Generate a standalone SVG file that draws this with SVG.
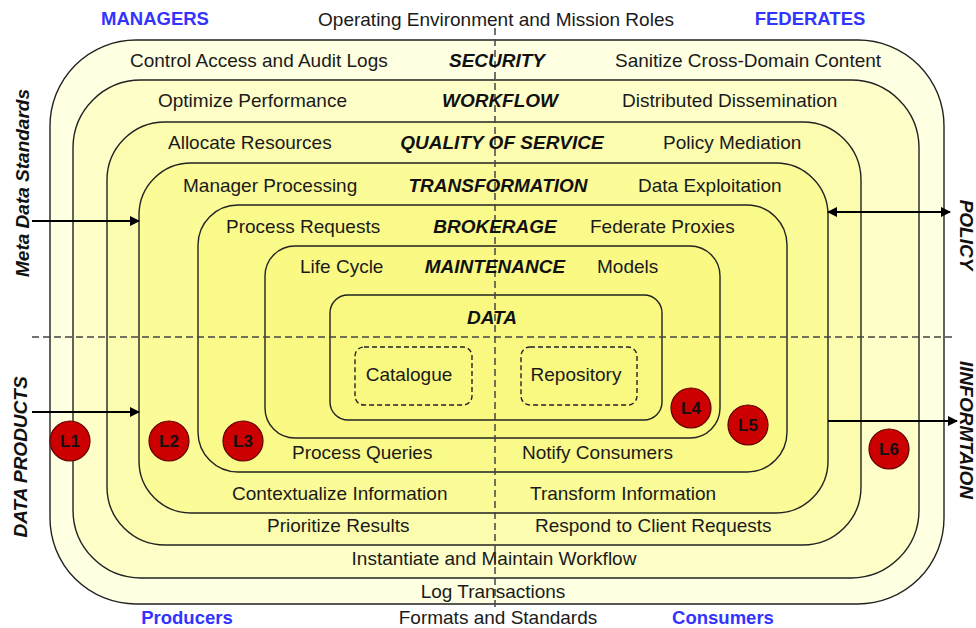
<svg xmlns="http://www.w3.org/2000/svg" width="976" height="628" viewBox="0 0 976 628">
<defs>
<marker id="ah" viewBox="0 0 10 10" refX="9" refY="5" markerWidth="10" markerHeight="10" markerUnits="userSpaceOnUse" orient="auto-start-reverse">
<path d="M0,0 L10,5 L0,10 z" fill="#000"/>
</marker>
</defs>
<style>
.ring{stroke:#222;stroke-width:1.4}
.t{font-family:"Liberation Sans",Arial,sans-serif;font-size:19px;fill:#1a1a1a}
.c{text-anchor:middle}
.h{font-family:"Liberation Sans",Arial,sans-serif;font-size:19px;font-weight:bold;font-style:italic;fill:#111;text-anchor:middle}
.b{font-family:"Liberation Sans",Arial,sans-serif;font-size:18.5px;font-weight:bold;fill:#3333ff;text-anchor:middle}
.dash{stroke:#444;stroke-width:1.5;stroke-dasharray:7 4;fill:none}
.box{stroke:#222;stroke-width:1.4;stroke-dasharray:5 3;fill:none}
.lc circle{fill:#cc0000;stroke:#5a0000;stroke-width:1.2}
.lc text{font-family:"Liberation Sans",Arial,sans-serif;font-size:17px;font-weight:bold;fill:#111;text-anchor:middle}
.arr{stroke:#000;stroke-width:2.2;fill:none}
</style>
<rect width="976" height="628" fill="#fff"/>
<g id="security"><rect class="ring" x="50" y="40" width="894" height="564" rx="86" fill="#FFFFE2"/></g>
<g id="workflow"><rect class="ring" x="73" y="80" width="846" height="498" rx="68" fill="#FEFEC8"/></g>
<g id="qos"><rect class="ring" x="107" y="122" width="754" height="423" rx="58" fill="#FCFCAE"/></g>
<g id="transformation"><rect class="ring" x="139" y="163" width="689" height="350" rx="52" fill="#FBFB98"/></g>
<g id="brokerage"><rect class="ring" x="198" y="205" width="589" height="267" rx="40" fill="#FAFA8A"/></g>
<g id="maintenance"><rect class="ring" x="265" y="246" width="455" height="192" rx="30" fill="#F9F984"/></g>
<g id="data"><rect class="ring" x="330" y="295" width="332" height="125" rx="18" fill="#F9F981"/></g>
<g id="catalogue"><rect class="box" x="355" y="347" width="117" height="58" rx="9"/></g>
<g id="repository"><rect class="box" x="521" y="347" width="116" height="58" rx="9"/></g>

<g id="axes">
<line class="dash" x1="32" y1="337" x2="952" y2="337"/>
<line class="dash" x1="495" y1="28" x2="495" y2="610" stroke-dasharray="5 4"/>
</g>

<g id="connectors">
<line class="arr" x1="32" y1="221" x2="139" y2="221" marker-end="url(#ah)"/>
<line class="arr" x1="32" y1="412" x2="139" y2="412" marker-end="url(#ah)"/>
<line class="arr" x1="828" y1="212" x2="950" y2="212" marker-start="url(#ah)" marker-end="url(#ah)"/>
<line class="arr" x1="828" y1="421" x2="957" y2="421" marker-end="url(#ah)"/>
</g>

<g id="labels">
<text class="b" x="155" y="25">MANAGERS</text>
<text class="b" x="810" y="25">FEDERATES</text>
<text class="t c" x="496" y="26">Operating Environment and Mission Roles</text>
<text class="b" x="187" y="624">Producers</text>
<text class="b" x="723" y="624">Consumers</text>
<text class="t c" x="498" y="624">Formats and Standards</text>

<text class="t" x="130" y="67">Control Access and Audit Logs</text>
<text class="h" x="497" y="67">SECURITY</text>
<text class="t" x="615" y="67">Sanitize Cross-Domain Content</text>

<text class="t" x="158" y="107">Optimize Performance</text>
<text class="h" x="500" y="107">WORKFLOW</text>
<text class="t" x="622" y="107">Distributed Dissemination</text>

<text class="t" x="168" y="149">Allocate Resources</text>
<text class="h" x="502" y="149">QUALITY OF SERVICE</text>
<text class="t" x="663" y="149">Policy Mediation</text>

<text class="t" x="183" y="192">Manager Processing</text>
<text class="h" x="498" y="192">TRANSFORMATION</text>
<text class="t" x="638" y="192">Data Exploitation</text>

<text class="t" x="226" y="233">Process Requests</text>
<text class="h" x="495" y="233">BROKERAGE</text>
<text class="t" x="590" y="233">Federate Proxies</text>

<text class="t" x="300" y="273">Life Cycle</text>
<text class="h" x="495" y="273">MAINTENANCE</text>
<text class="t" x="597" y="273">Models</text>

<text class="h" x="492" y="324">DATA</text>
<text class="t c" x="409" y="381">Catalogue</text>
<text class="t c" x="576" y="381">Repository</text>

<text class="t" x="292" y="459">Process Queries</text>
<text class="t" x="522" y="459">Notify Consumers</text>
<text class="t" x="232" y="500">Contextualize Information</text>
<text class="t" x="530" y="500">Transform Information</text>
<text class="t" x="267" y="532">Prioritize Results</text>
<text class="t" x="535" y="532">Respond to Client Requests</text>
<text class="t c" x="494" y="565">Instantiate and Maintain Workflow</text>
<text class="t c" x="493" y="598">Log Transactions</text>

<text class="h" transform="translate(29,183) rotate(-90)">Meta Data Standards</text>
<text class="h" transform="translate(27,457) rotate(-90)">DATA PRODUCTS</text>
<text class="h" transform="translate(960,235) rotate(90)">POLICY</text>
<text class="h" transform="translate(960,430) rotate(90)">IINFORMTAION</text>
</g>

<g id="L1" class="lc"><circle cx="70" cy="441" r="20"/><text x="70" y="447">L1</text></g>
<g id="L2" class="lc"><circle cx="169" cy="441" r="20"/><text x="169" y="447">L2</text></g>
<g id="L3" class="lc"><circle cx="243" cy="441" r="20"/><text x="243" y="447">L3</text></g>
<g id="L4" class="lc"><circle cx="691" cy="408" r="20"/><text x="691" y="414">L4</text></g>
<g id="L5" class="lc"><circle cx="748" cy="425" r="20"/><text x="748" y="431">L5</text></g>
<g id="L6" class="lc"><circle cx="889" cy="449" r="20"/><text x="889" y="455">L6</text></g>
</svg>
